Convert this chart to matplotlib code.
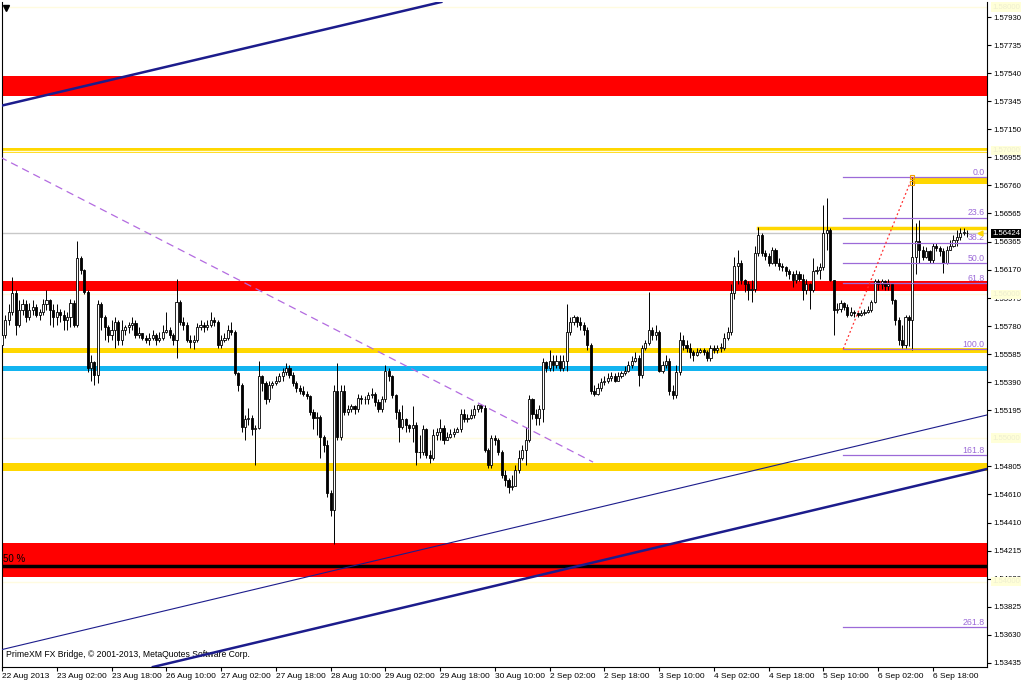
import numpy as np
import matplotlib.pyplot as plt
import matplotlib.transforms as mtransforms

# EURGBP-style H1 chart, 22 Aug - 6 Sep 2013
open_first = 1.5565
close = [
    1.5572, 1.5582, 1.5588, 1.5601, 1.5579, 1.5589, 1.5593, 1.5584, 1.5589, 1.5591,
    1.5586, 1.5588, 1.5593, 1.5596, 1.5589, 1.5584, 1.5588, 1.5586, 1.5582, 1.5584,
    1.5594, 1.5579, 1.5625, 1.5617, 1.5602, 1.5549, 1.5553, 1.5544, 1.5593, 1.5584,
    1.5577, 1.5572, 1.5575, 1.5581, 1.5568, 1.5575, 1.5577, 1.5579, 1.5580, 1.5572,
    1.5573, 1.5570, 1.5568, 1.5570, 1.5572, 1.5568, 1.5570, 1.5574, 1.5575, 1.5572,
    1.5568, 1.5595, 1.5581, 1.5579, 1.5568, 1.5567, 1.5568, 1.5577, 1.5579, 1.5577,
    1.5579, 1.5582, 1.5581, 1.5565, 1.5568, 1.5570, 1.5575, 1.5574, 1.5545, 1.5537,
    1.5508, 1.5513, 1.5514, 1.5506, 1.5507, 1.5543, 1.5538, 1.5527, 1.5537, 1.5538,
    1.5540, 1.5543, 1.5546, 1.5549, 1.5544, 1.5538, 1.5535, 1.5533, 1.5531, 1.5529,
    1.5518, 1.5514, 1.5515, 1.5501, 1.5495, 1.5462, 1.5450, 1.5533, 1.5501, 1.5533,
    1.5518, 1.5520, 1.5522, 1.5520, 1.5528, 1.5527, 1.5527, 1.5530, 1.5531, 1.5525,
    1.5520, 1.5527, 1.5547, 1.5543, 1.5530, 1.5518, 1.5508, 1.5513, 1.5509, 1.5507,
    1.5509, 1.5490, 1.5490, 1.5506, 1.5488, 1.5486, 1.5502, 1.5504, 1.5507, 1.5499,
    1.5501, 1.5503, 1.5504, 1.5506, 1.5517, 1.5513, 1.5514, 1.5516, 1.5520, 1.5523,
    1.5521, 1.5492, 1.5481, 1.5500, 1.5499, 1.5490, 1.5474, 1.5471, 1.5466, 1.5467,
    1.5478, 1.5486, 1.5492, 1.5499, 1.5527, 1.5517, 1.5514, 1.5520, 1.5553, 1.5549,
    1.5554, 1.5551, 1.5554, 1.5549, 1.5554, 1.5574, 1.5581, 1.5584, 1.5581, 1.5579,
    1.5575, 1.5565, 1.5533, 1.5531, 1.5535, 1.5539, 1.5540, 1.5542, 1.5543, 1.5540,
    1.5543, 1.5545, 1.5547, 1.5551, 1.5554, 1.5556, 1.5544, 1.5563, 1.5566, 1.5575,
    1.5572, 1.5574, 1.5547, 1.5551, 1.5554, 1.5533, 1.5530, 1.5546, 1.5568, 1.5565,
    1.5563, 1.5560, 1.5558, 1.5560, 1.5561, 1.5560, 1.5556, 1.5563, 1.5561, 1.5563,
    1.5563, 1.5570, 1.5574, 1.5601, 1.5620, 1.5622, 1.5610, 1.5607, 1.5603, 1.5604,
    1.5629, 1.5641, 1.5629, 1.5627, 1.5622, 1.5631, 1.5622, 1.5620, 1.5619, 1.5616,
    1.5614, 1.5610, 1.5614, 1.5611, 1.5603, 1.5607, 1.5603, 1.5616, 1.5617, 1.5619,
    1.5643, 1.5645, 1.5610, 1.5589, 1.5590, 1.5594, 1.5591, 1.5586, 1.5588, 1.5587,
    1.5586, 1.5587, 1.5588, 1.5589, 1.5595, 1.5609, 1.5607, 1.5609, 1.5606, 1.5607,
    1.5596, 1.5582, 1.5568, 1.5565, 1.5584, 1.5582, 1.5626, 1.5637, 1.5631, 1.5626,
    1.5630, 1.5624, 1.5634, 1.5632, 1.5630, 1.5622, 1.5631, 1.5634, 1.5638, 1.5640,
    1.5643, 1.5643, 1.56424,
]
high = [
    1.5575, 1.5586, 1.5593, 1.5612, 1.5603, 1.5596, 1.5597, 1.5596, 1.5594, 1.5596,
    1.5593, 1.5590, 1.5597, 1.5603, 1.5597, 1.5593, 1.5593, 1.5590, 1.5589, 1.5588,
    1.5597, 1.5596, 1.5637, 1.5627, 1.5618, 1.5603, 1.5558, 1.5554, 1.5596, 1.5595,
    1.5586, 1.5579, 1.5582, 1.5584, 1.5582, 1.5582, 1.5579, 1.5581, 1.5584, 1.5582,
    1.5577, 1.5573, 1.5572, 1.5573, 1.5575, 1.5573, 1.5574, 1.5579, 1.5588, 1.5577,
    1.5573, 1.5611, 1.5596, 1.5584, 1.5581, 1.5572, 1.5572, 1.5580, 1.5582, 1.5581,
    1.5582, 1.5588, 1.5584, 1.5582, 1.5572, 1.5573, 1.5579, 1.5581, 1.5575, 1.5546,
    1.5538, 1.5516, 1.5521, 1.5516, 1.5509, 1.5554, 1.5544, 1.5540, 1.5540, 1.5540,
    1.5543, 1.5545, 1.5549, 1.5552, 1.5551, 1.5546, 1.5540, 1.5537, 1.5536, 1.5533,
    1.5530, 1.5520, 1.5518, 1.5516, 1.5502, 1.5499, 1.5464, 1.5537, 1.5552, 1.5537,
    1.5537, 1.5523, 1.5524, 1.5523, 1.5531, 1.5530, 1.5529, 1.5532, 1.5535, 1.5532,
    1.5527, 1.5529, 1.5551, 1.5549, 1.5544, 1.5531, 1.5520, 1.5523, 1.5514, 1.5510,
    1.5522, 1.5511, 1.5502, 1.5509, 1.5507, 1.5492, 1.5506, 1.5507, 1.5513, 1.5509,
    1.5504, 1.5506, 1.5507, 1.5508, 1.5520, 1.5520, 1.5517, 1.5520, 1.5523, 1.5524,
    1.5524, 1.5523, 1.5493, 1.5502, 1.5502, 1.5500, 1.5492, 1.5478, 1.5472, 1.5474,
    1.5481, 1.5492, 1.5495, 1.5508, 1.5530, 1.5528, 1.5520, 1.5523, 1.5556, 1.5554,
    1.5561, 1.5558, 1.5558, 1.5558, 1.5558, 1.5593, 1.5584, 1.5586, 1.5585, 1.5584,
    1.5581, 1.5577, 1.5566, 1.5537, 1.5538, 1.5542, 1.5543, 1.5545, 1.5546, 1.5545,
    1.5546, 1.5547, 1.5550, 1.5554, 1.5557, 1.5560, 1.5558, 1.5565, 1.5568, 1.5602,
    1.5577, 1.5579, 1.5575, 1.5554, 1.5558, 1.5556, 1.5537, 1.5551, 1.5574, 1.5572,
    1.5568, 1.5566, 1.5561, 1.5563, 1.5563, 1.5563, 1.5561, 1.5565, 1.5565, 1.5565,
    1.5566, 1.5573, 1.5577, 1.5607, 1.5626, 1.5631, 1.5624, 1.5611, 1.5609, 1.5610,
    1.5634, 1.5647, 1.5643, 1.5631, 1.5629, 1.5633, 1.5632, 1.5625, 1.5622, 1.5620,
    1.5618, 1.5616, 1.5617, 1.5616, 1.5614, 1.5611, 1.5608, 1.5625, 1.5620, 1.5622,
    1.5662, 1.5667, 1.5646, 1.5609, 1.5594, 1.5596, 1.5595, 1.5593, 1.5591, 1.5589,
    1.5588, 1.5589, 1.5590, 1.5592, 1.5596, 1.5611, 1.5611, 1.5611, 1.5610, 1.5611,
    1.5608, 1.5597, 1.5584, 1.5579, 1.5586, 1.5586, 1.5682, 1.5650, 1.5652, 1.5634,
    1.5633, 1.5631, 1.5636, 1.5636, 1.5634, 1.5632, 1.5634, 1.5638, 1.5641, 1.5645,
    1.5646, 1.5646, 1.5645,
]
low = [
    1.5561, 1.5570, 1.5579, 1.5586, 1.5572, 1.5577, 1.5586, 1.5581, 1.5582, 1.5586,
    1.5584, 1.5582, 1.5586, 1.5589, 1.5579, 1.5577, 1.5579, 1.5581, 1.5575, 1.5575,
    1.5577, 1.5577, 1.5577, 1.5614, 1.5600, 1.5546, 1.5540, 1.5537, 1.5538, 1.5575,
    1.5568, 1.5567, 1.5568, 1.5563, 1.5565, 1.5565, 1.5572, 1.5573, 1.5575, 1.5570,
    1.5570, 1.5568, 1.5566, 1.5565, 1.5568, 1.5565, 1.5567, 1.5568, 1.5573, 1.5570,
    1.5565, 1.5556, 1.5579, 1.5575, 1.5567, 1.5563, 1.5562, 1.5567, 1.5575, 1.5574,
    1.5575, 1.5577, 1.5578, 1.5563, 1.5563, 1.5567, 1.5568, 1.5572, 1.5544, 1.5533,
    1.5504, 1.5499, 1.5509, 1.5502, 1.5481, 1.5506, 1.5533, 1.5524, 1.5525, 1.5535,
    1.5537, 1.5539, 1.5540, 1.5544, 1.5542, 1.5536, 1.5532, 1.5531, 1.5529, 1.5527,
    1.5516, 1.5506, 1.5502, 1.5486, 1.5490, 1.5459, 1.5446, 1.5426, 1.5499, 1.5499,
    1.5516, 1.5516, 1.5518, 1.5517, 1.5518, 1.5524, 1.5524, 1.5524, 1.5528, 1.5522,
    1.5518, 1.5518, 1.5525, 1.5540, 1.5528, 1.5513, 1.5497, 1.5506, 1.5504, 1.5504,
    1.5497, 1.5481, 1.5486, 1.5488, 1.5486, 1.5483, 1.5485, 1.5499, 1.5499, 1.5496,
    1.5499, 1.5500, 1.5501, 1.5504, 1.5504, 1.5511, 1.5511, 1.5513, 1.5514, 1.5518,
    1.5518, 1.5490, 1.5479, 1.5479, 1.5495, 1.5488, 1.5472, 1.5467, 1.5462, 1.5464,
    1.5469, 1.5476, 1.5485, 1.5481, 1.5497, 1.5513, 1.5509, 1.5509, 1.5511, 1.5546,
    1.5547, 1.5547, 1.5549, 1.5547, 1.5547, 1.5547, 1.5572, 1.5579, 1.5577, 1.5575,
    1.5572, 1.5561, 1.5531, 1.5529, 1.5530, 1.5533, 1.5537, 1.5538, 1.5540, 1.5539,
    1.5540, 1.5542, 1.5544, 1.5546, 1.5549, 1.5553, 1.5536, 1.5542, 1.5561, 1.5565,
    1.5568, 1.5568, 1.5546, 1.5545, 1.5549, 1.5530, 1.5527, 1.5528, 1.5544, 1.5561,
    1.5560, 1.5556, 1.5554, 1.5557, 1.5559, 1.5558, 1.5554, 1.5554, 1.5559, 1.5559,
    1.5560, 1.5561, 1.5568, 1.5572, 1.5597, 1.5607, 1.5607, 1.5602, 1.5596, 1.5595,
    1.5602, 1.5627, 1.5627, 1.5624, 1.5620, 1.5621, 1.5620, 1.5617, 1.5616, 1.5613,
    1.5611, 1.5605, 1.5608, 1.5609, 1.5596, 1.5600, 1.5590, 1.5602, 1.5614, 1.5611,
    1.5617, 1.5631, 1.5609, 1.5572, 1.5587, 1.5588, 1.5589, 1.5584, 1.5585, 1.5584,
    1.5584, 1.5585, 1.5586, 1.5587, 1.5588, 1.5594, 1.5603, 1.5604, 1.5603, 1.5603,
    1.5593, 1.5579, 1.5565, 1.5563, 1.5563, 1.5564, 1.5561, 1.5614, 1.5622, 1.5624,
    1.5625, 1.5622, 1.5622, 1.5630, 1.5627, 1.5615, 1.5621, 1.5631, 1.5633, 1.5634,
    1.5638, 1.5641, 1.5640,
]

time_labels = ["22 Aug 2013", "23 Aug 02:00", "23 Aug 18:00", "26 Aug 10:00",
               "27 Aug 02:00", "27 Aug 18:00", "28 Aug 10:00", "29 Aug 02:00",
               "29 Aug 18:00", "30 Aug 10:00", "2 Sep 02:00", "2 Sep 18:00",
               "3 Sep 10:00", "4 Sep 02:00", "4 Sep 18:00", "5 Sep 10:00",
               "6 Sep 02:00", "6 Sep 18:00"]
bars_per_label = 16

price_ticks = [1.57930, 1.57735, 1.57540, 1.57345, 1.57150, 1.56955, 1.56760,
               1.56565, 1.56365, 1.56170, 1.55975, 1.55780, 1.55585, 1.55390,
               1.55195, 1.54805, 1.54610, 1.54410, 1.54215, 1.54020, 1.53825,
               1.53630, 1.53435]
round_levels = [1.58000, 1.57000, 1.56000, 1.55000, 1.54000]
last_price = 1.56424

red_zones = [(1.5738, 1.5752), (1.56024, 1.56093), (1.54033, 1.54270)]
gold_zones = [(1.55592, 1.55627), (1.54771, 1.54827), (1.56982, 1.57018)]
blue_zone = (1.55467, 1.55502)
half_line = 1.54110

# objects that start at a given bar: (start bar, low, high)
gold_box_top = (266, 1.56770, 1.56812)
gold_line = (221, 1.56465)

# trend lines as two anchor points (bar, price)
channel_top = [(-0.6, 1.57311), (127.1, 1.58028)]
channel_mid = [(-0.6, 1.53525), (287.8, 1.55161)]
channel_low = [(44.1, 1.53407), (287.8, 1.54785)]
dash_line = [(-0.6, 1.56956), (172.7, 1.54833)]

# fibonacci retracement
fib_start, fib_end = 245.8, 266
fib_low, fib_high = 1.55620, 1.56817
fib_levels = [0.0, 23.6, 38.2, 50.0, 61.8, 100.0, 161.8, 261.8]

plt.rcParams['font.family'] = ['Liberation Sans', 'DejaVu Sans']

fig = plt.figure(figsize=(10.24, 6.82), dpi=100)
ax = fig.add_axes([2 / 1024, 15 / 682, 985 / 1024, 665 / 682])
x_max = 287.8
ax.set_xlim(0.0, x_max)
ax.set_ylim(1.53407, 1.58035)

# horizontal zones
for lo, hi in red_zones:
    ax.axhspan(lo, hi, color='#ff0000', lw=0, zorder=1)
for lo, hi in gold_zones:
    ax.axhspan(lo, hi, color='#ffd700', lw=0, zorder=1)
ax.axhspan(*blue_zone, color='#12b4f0', lw=0, zorder=1)
ax.fill_between([gold_box_top[0], x_max], gold_box_top[1], gold_box_top[2],
                color='#ffd700', lw=0, zorder=1)
ax.plot([gold_line[0], x_max], [gold_line[1]] * 2, color='#ffd700', lw=2.5, zorder=1)
for lvl in round_levels:
    ax.axhline(lvl, color='#fffbe0', lw=1, zorder=1.5)
ax.axhline(last_price, color='#c8c8c8', lw=1, zorder=1.5)
ax.axhline(half_line, color='black', lw=2.5, zorder=2)

# candles
c = np.array(close)
h = np.array(high)
l = np.array(low)
o = np.r_[open_first, c[:-1]]
idx = np.arange(len(c))
up = c >= o
ax.vlines(idx, np.minimum(l, np.minimum(o, c)), np.maximum(h, np.maximum(o, c)),
          color='black', lw=0.7, zorder=3)
body_lo = np.minimum(o, c)
body_h = np.maximum(np.abs(c - o), 0.00003)
ax.bar(idx[up], body_h[up], bottom=body_lo[up], width=0.62, color='white',
       edgecolor='black', lw=0.6, zorder=4)
ax.bar(idx[~up], body_h[~up], bottom=body_lo[~up], width=0.62, color='black',
       edgecolor='black', lw=0.6, zorder=4)

# trend lines
ax.axline(*channel_top, color='#1c1c8c', lw=1.8, zorder=5)
ax.axline(*channel_mid, color='#1c1c8c', lw=0.8, zorder=5)
ax.axline(*channel_low, color='#1c1c8c', lw=1.8, zorder=5)
ax.plot([p[0] for p in dash_line], [p[1] for p in dash_line], color='#b36be0',
        lw=0.9, dashes=(6, 4), zorder=5)

# fibonacci
fib_range = fib_high - fib_low
for lvl in fib_levels:
    price = fib_high - lvl / 100 * fib_range
    ax.plot([fib_start, x_max], [price, price], color='#9c6ad8', lw=0.9, zorder=5)
    ax.text(x_max - 0.7, price + 0.00003, f"{lvl:.1f}", color='#9c6ad8', fontsize=6.3,
            ha='right', va='bottom', zorder=6)
ax.plot([fib_start, fib_end], [fib_low, fib_high], color='#ff3030', lw=0.9,
        linestyle=(0, (1.5, 2)), zorder=5)
ax.plot([fib_end, fib_end], [fib_high, fib_high - 0.0004], 's', ms=3.5, mfc='none',
        mec='#f0a000', mew=0.8, zorder=6)

# axis styling
for side in ['left', 'bottom', 'right']:
    ax.spines[side].set_color('black')
    ax.spines[side].set_linewidth(0.8)
ax.spines['top'].set_visible(False)
ax.yaxis.tick_right()
ax.set_yticks(price_ticks)
ax.set_yticklabels([f"{p:.5f}" for p in price_ticks])
ax.tick_params(axis='y', direction='out', length=3, width=0.8, labelsize=5.6, pad=1.5)
ax.set_xticks(np.arange(len(time_labels)) * bars_per_label)
ax.set_xticklabels(time_labels, ha='left')
ax.tick_params(axis='x', direction='out', length=3, width=0.8, labelsize=6.0, pad=1)

trans = mtransforms.blended_transform_factory(ax.transAxes, ax.transData)
for lvl in round_levels:
    ax.text(1.005, lvl, f"{lvl:.5f}", transform=trans, fontsize=5.6, color='#eeeed0',
            ha='left', va='center', clip_on=False,
            bbox=dict(boxstyle='square,pad=0.15', fc='#ffffd8', ec='none'))
ax.text(1.005, last_price, f"{last_price:.5f}", transform=trans, fontsize=5.6,
        color='white', ha='left', va='center', clip_on=False,
        bbox=dict(boxstyle='square,pad=0.15', fc='black', ec='none'))
ax.plot([0.993], [last_price], marker='<', ms=3.5, color='#ffd700', transform=trans,
        clip_on=False, zorder=6)

ax.text(0.001, half_line + 0.00012, "50 %", fontsize=7, color='black',
        transform=trans, ha='left', va='bottom')
ax.text(0.004, 0.012, "PrimeXM FX Bridge, \u00a9 2001-2013, MetaQuotes Software Corp.",
        fontsize=6.2, color='black', transform=ax.transAxes, ha='left', va='bottom')
ax.plot([0.004], [0.991], marker='v', ms=4, color='black', transform=ax.transAxes)

fig.savefig('out.png', dpi=100, facecolor='white')
